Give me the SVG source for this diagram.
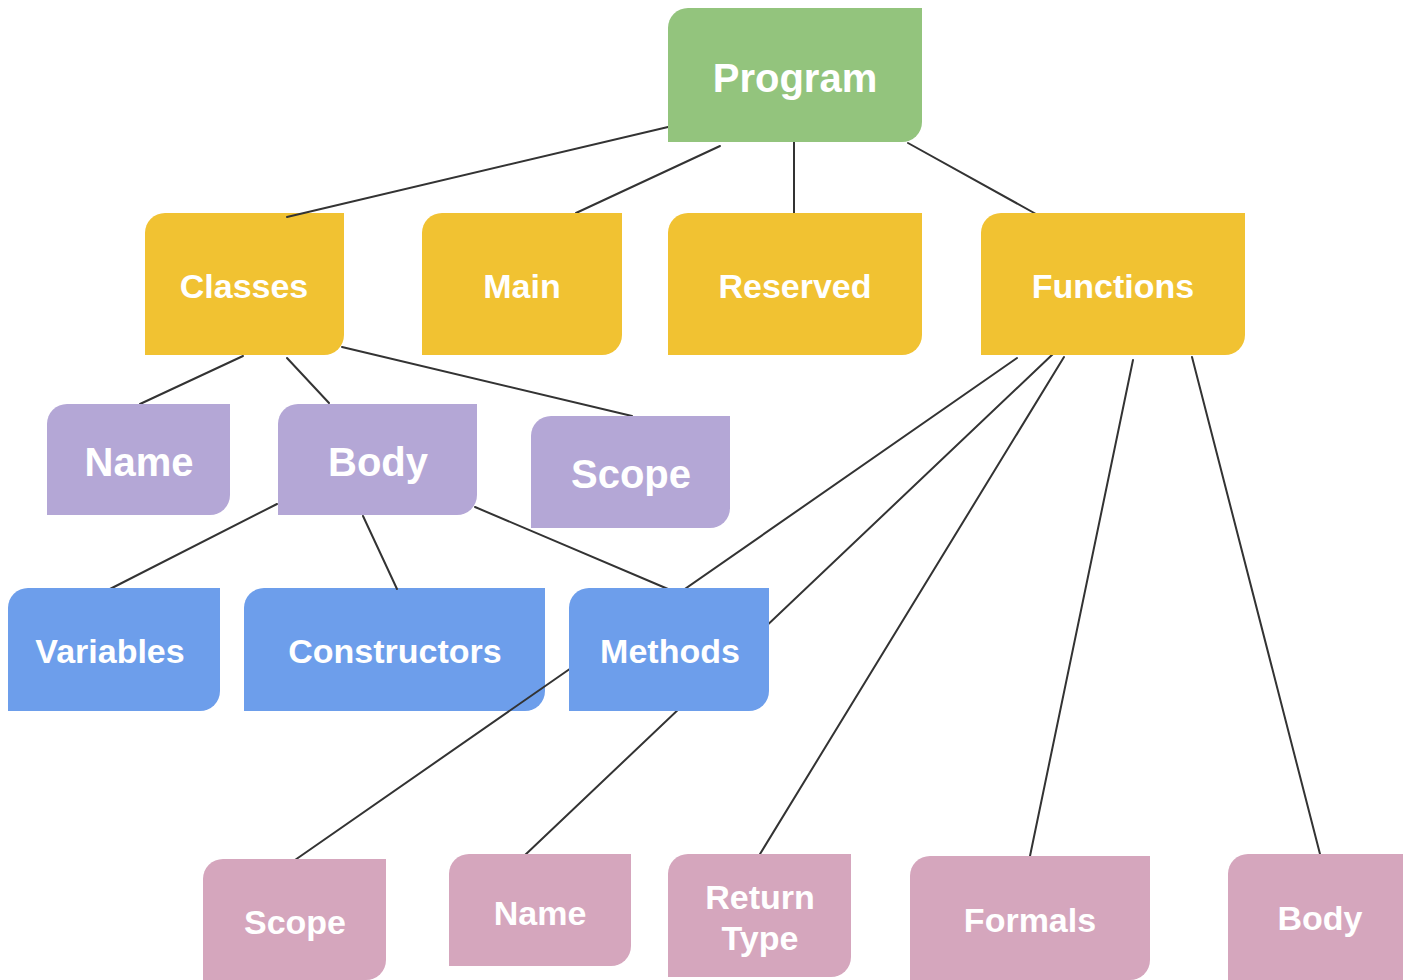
<svg xmlns="http://www.w3.org/2000/svg" width="1403" height="980" viewBox="0 0 1403 980">
<style>
.lbl{font-family:"Liberation Sans",Arial,sans-serif;font-weight:bold;fill:#ffffff;text-anchor:middle}
.green{fill:#93c47d}.yellow{fill:#f1c232}.purple{fill:#b4a7d6}.blue{fill:#6d9eeb}.pink{fill:#d5a6bd}
.edge line{stroke:#333333;stroke-width:2;stroke-linecap:round}
</style>
<rect width="1403" height="980" fill="#ffffff"/>
<g id="node-constructors">
<path class="blue" d="M264,588 H545 V691 A20,20 0 0 1 525,711 H244 V608 A20,20 0 0 1 264,588 Z"/>
<text class="lbl" x="395" y="663" font-size="34">Constructors</text>
</g>
<g id="node-classes">
<path class="yellow" d="M165,213 H344 V335 A20,20 0 0 1 324,355 H145 V233 A20,20 0 0 1 165,213 Z"/>
<text class="lbl" x="244" y="298" font-size="34">Classes</text>
</g>
<g id="connectors" class="edge">
<line x1="668" y1="127" x2="287" y2="217"/>
<line x1="720" y1="146" x2="576" y2="213"/>
<line x1="794" y1="142" x2="794" y2="213"/>
<line x1="908" y1="143" x2="1036" y2="214"/>
<line x1="243" y1="356" x2="140" y2="404"/>
<line x1="287" y1="358" x2="329" y2="403"/>
<line x1="342" y1="347" x2="632" y2="416"/>
<line x1="277" y1="504" x2="110" y2="589"/>
<line x1="363" y1="516" x2="397" y2="589"/>
<line x1="475" y1="507" x2="668" y2="589"/>
<line x1="1017" y1="358" x2="295" y2="860"/>
<line x1="1054" y1="353" x2="524" y2="856"/>
<line x1="1064" y1="357" x2="760" y2="854"/>
<line x1="1133" y1="360" x2="1030" y2="856"/>
<line x1="1192" y1="357" x2="1320" y2="854"/>
</g>
<g id="node-program">
<path class="green" d="M688,8 H922 V122 A20,20 0 0 1 902,142 H668 V28 A20,20 0 0 1 688,8 Z"/>
<text class="lbl" x="795" y="92" font-size="40">Program</text>
</g>
<g id="node-main">
<path class="yellow" d="M442,213 H622 V335 A20,20 0 0 1 602,355 H422 V233 A20,20 0 0 1 442,213 Z"/>
<text class="lbl" x="522" y="298" font-size="34">Main</text>
</g>
<g id="node-reserved">
<path class="yellow" d="M688,213 H922 V335 A20,20 0 0 1 902,355 H668 V233 A20,20 0 0 1 688,213 Z"/>
<text class="lbl" x="795" y="298" font-size="34">Reserved</text>
</g>
<g id="node-functions">
<path class="yellow" d="M1001,213 H1245 V335 A20,20 0 0 1 1225,355 H981 V233 A20,20 0 0 1 1001,213 Z"/>
<text class="lbl" x="1113" y="298" font-size="34">Functions</text>
</g>
<g id="node-class-name">
<path class="purple" d="M67,404 H230 V495 A20,20 0 0 1 210,515 H47 V424 A20,20 0 0 1 67,404 Z"/>
<text class="lbl" x="139" y="476" font-size="40">Name</text>
</g>
<g id="node-class-body">
<path class="purple" d="M298,404 H477 V495 A20,20 0 0 1 457,515 H278 V424 A20,20 0 0 1 298,404 Z"/>
<text class="lbl" x="378" y="476" font-size="40">Body</text>
</g>
<g id="node-class-scope">
<path class="purple" d="M551,416 H730 V508 A20,20 0 0 1 710,528 H531 V436 A20,20 0 0 1 551,416 Z"/>
<text class="lbl" x="631" y="488" font-size="40">Scope</text>
</g>
<g id="node-variables">
<path class="blue" d="M28,588 H220 V691 A20,20 0 0 1 200,711 H8 V608 A20,20 0 0 1 28,588 Z"/>
<text class="lbl" x="110" y="663" font-size="34">Variables</text>
</g>
<g id="node-methods">
<path class="blue" d="M589,588 H769 V691 A20,20 0 0 1 749,711 H569 V608 A20,20 0 0 1 589,588 Z"/>
<text class="lbl" x="670" y="663" font-size="34">Methods</text>
</g>
<g id="node-fn-scope">
<path class="pink" d="M223,859 H386 V960 A20,20 0 0 1 366,980 H203 V879 A20,20 0 0 1 223,859 Z"/>
<text class="lbl" x="295" y="934" font-size="34">Scope</text>
</g>
<g id="node-fn-name">
<path class="pink" d="M469,854 H631 V946 A20,20 0 0 1 611,966 H449 V874 A20,20 0 0 1 469,854 Z"/>
<text class="lbl" x="540" y="925" font-size="34">Name</text>
</g>
<g id="node-fn-return">
<path class="pink" d="M688,854 H851 V957 A20,20 0 0 1 831,977 H668 V874 A20,20 0 0 1 688,854 Z"/>
<text class="lbl" x="760" y="909" font-size="34">Return</text>
<text class="lbl" x="760" y="950" font-size="34">Type</text>
</g>
<g id="node-fn-formals">
<path class="pink" d="M930,856 H1150 V960 A20,20 0 0 1 1130,980 H910 V876 A20,20 0 0 1 930,856 Z"/>
<text class="lbl" x="1030" y="932" font-size="34">Formals</text>
</g>
<g id="node-fn-body">
<path class="pink" d="M1248,854 H1418 V970 A20,20 0 0 1 1398,990 H1228 V874 A20,20 0 0 1 1248,854 Z"/>
<text class="lbl" x="1320" y="930" font-size="34">Body</text>
</g>
</svg>
